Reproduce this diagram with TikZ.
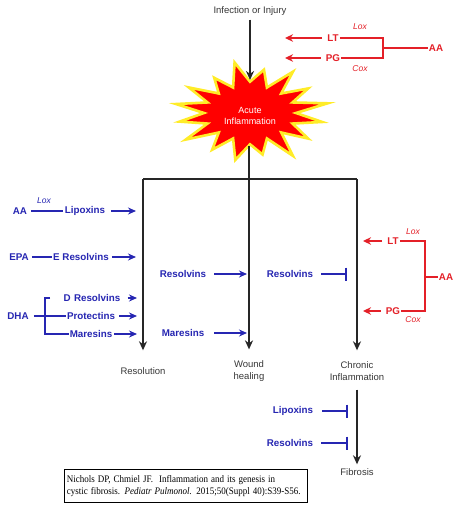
\documentclass[tikz,border=0pt]{standalone}
\usepackage{fontspec}
\setmainfont{Liberation Sans}
\newfontfamily\citefont{Liberation Serif}
\usetikzlibrary{arrows.meta}
\definecolor{myblue}{RGB}{38,38,178}
\definecolor{myred}{RGB}{228,32,40}
\definecolor{txtgray}{RGB}{55,55,55}
\definecolor{burstyellow}{RGB}{255,236,40}
\tikzset{
  lbl/.style={font=\fontsize{9.5}{12}\selectfont, text=txtgray, align=center, inner sep=1pt},
  bl/.style={font=\bfseries\fontsize{9.8}{11}\selectfont, text=myblue, inner sep=1pt},
  rd/.style={font=\bfseries\fontsize{9.8}{11}\selectfont, text=myred, inner sep=1pt},
  enzb/.style={font=\itshape\fontsize{8.5}{10}\selectfont, text=myblue, inner sep=1pt},
  enzr/.style={font=\itshape\fontsize{8.5}{10}\selectfont, text=myred, inner sep=1pt},
  blk/.style={line width=1.6pt, black!85},
  blkarr/.style={blk, -{Stealth[length=9pt,width=8pt]}},
  bln/.style={line width=1.4pt, myblue},
  barr/.style={bln, -{Stealth[length=8pt,width=7pt]}},
  binh/.style={bln, -{Bar[width=13pt,line width=1.8pt]}},
  rln/.style={line width=1.4pt, myred},
  rarr/.style={rln, -{Stealth[length=8pt,width=7.5pt]}},
}
\begin{document}
\begin{tikzpicture}[x=1pt,y=-1pt]
\useasboundingbox[fill=white] (0,0) rectangle (454,505);

% --- trigger and the acute burst ---
\node[lbl] (inj) at (250,11) {Infection or Injury};
\coordinate (bc) at (250,113);
\begin{scope}[shift={(bc)}, xscale=0.92, yscale=0.92]
  \filldraw[fill=red, draw=burstyellow, line width=2.6pt, line join=miter, miter limit=8]
    (0:50 and 30)      -- (11.25:80 and 50)
    -- (22.5:50 and 30) -- (33.75:76 and 50)
    -- (45:48 and 30)   -- (56.25:84 and 56)
    -- (67.5:48 and 30) -- (78.75:70 and 46)
    -- (90:48 and 34)   -- (101.25:82 and 52)
    -- (112.5:48 and 30) -- (123.75:74 and 48)
    -- (135:48 and 30)  -- (146.25:84 and 52)
    -- (157.5:50 and 30) -- (168.75:78 and 48)
    -- (180:50 and 30)  -- (191.25:82 and 50)
    -- (202.5:50 and 30) -- (213.75:80 and 50)
    -- (225:48 and 30)  -- (236.25:70 and 46)
    -- (247.5:48 and 30) -- (258.75:86 and 56)
    -- (270:48 and 34)  -- (281.25:78 and 48)
    -- (292.5:48 and 30) -- (303.75:84 and 54)
    -- (315:48 and 30)  -- (326.25:76 and 48)
    -- (337.5:50 and 30) -- (348.75:86 and 54)
    -- cycle;
\end{scope}
\node[font=\fontsize{9}{11}\selectfont, text=white, align=center] (acute) at (250,116) {Acute\\Inflammation};
\coordinate (btop) at (250,80);
\coordinate (bbot) at (249,146);
\draw[blkarr, shorten <=3pt] (inj.south) -- (btop);

% --- three outcomes ---
\coordinate (jL) at (143,179);
\coordinate (jM) at (249,179);
\coordinate (jR) at (357,179);
\node[lbl] (res) at (143,371) {Resolution};
\node[lbl] (wound) at (249,371) {Wound\\healing};
\node[lbl] (chron) at (357,371) {Chronic\\Inflammation};
\node[lbl] (fib) at (357,472) {Fibrosis};
\draw[blk] (bbot) -- (jM);
\draw[blk] (jL) -- (jR);
\draw[blkarr, shorten >=16pt] (jL) -- (res.north);
\draw[blkarr, shorten >=10pt] (jM) -- (wound.north);
\draw[blkarr, shorten >=10pt] (jR) -- (chron.north);
\draw[blkarr, shorten <=8pt, shorten >=3pt] (chron.south) -- (fib.north);

% --- pro-inflammatory eicosanoids, top ---
\node[rd] (lt1) at (333,38) {LT};
\node[rd] (pg1) at (333,58) {PG};
\node[rd] (aa1) at (436,48) {AA};
\node[enzr] (lox1) at (360,27) {Lox};
\node[enzr] (cox1) at (360,69) {Cox};
\coordinate (lt1tip) at (285,38);
\coordinate (pg1tip) at (285,58);
\draw[rarr, shorten <=4pt] (lt1.west) -- (lt1tip);
\draw[rarr, shorten <=4pt] (pg1.west) -- (pg1tip);
\draw[rln] (lt1.east) -- (383,38) -- (383,58) -- (pg1.east);
\draw[rln] (383,48) -- (aa1.west);

% --- pro-inflammatory eicosanoids, right ---
\node[rd] (lt2) at (393,241) {LT};
\node[rd] (pg2) at (393,311) {PG};
\node[rd] (aa2) at (446,277) {AA};
\node[enzr] (lox2) at (413,232) {Lox};
\node[enzr] (cox2) at (413,320) {Cox};
\coordinate (lt2tip) at (363,241);
\coordinate (pg2tip) at (363,311);
\draw[rarr, shorten <=4pt] (lt2.west) -- (lt2tip);
\draw[rarr, shorten <=4pt] (pg2.west) -- (pg2tip);
\draw[rln] (lt2.east) -- (425,241) -- (425,311) -- (pg2.east);
\draw[rln] (425,277) -- (aa2.west);

% --- pro-resolving mediators, left ---
\node[bl] (aa3) at (20,211) {AA};
\node[enzb] (lox3) at (44,201) {Lox};
\node[bl] (lipo) at (85,211) {Lipoxins};
\draw[bln, shorten <=3pt, shorten >=1pt] (aa3.east) -- (lipo.west);
\coordinate (lipotip) at (136,211);
\draw[barr, shorten <=5pt] (lipo.east) -- (lipotip);

\node[bl] (epa) at (19,257) {EPA};
\node[bl] (eres) at (81,257) {E Resolvins};
\draw[bln, shorten <=2pt] (epa.east) -- (eres.west);
\coordinate (erestip) at (136,257);
\draw[barr, shorten <=2pt] (eres.east) -- (erestip);

\node[bl] (dha) at (18,316) {DHA};
\node[bl] (dres) at (92,298) {D\,\,Resolvins};
\node[bl] (prot) at (91,316) {Protectins};
\node[bl] (mar) at (91,334) {Maresins};
\draw[bln] (50,298) -- (45,298) -- (45,334) -- (mar.west);
\draw[bln, shorten <=4pt] (dha.east) -- (prot.west);
\coordinate (drestip) at (137,298);
\coordinate (prottip) at (137,316);
\coordinate (martip) at (137,334);
\draw[barr, shorten <=6pt] (dres.east) -- (drestip);
\draw[barr, shorten <=3pt] (prot.east) -- (prottip);
\draw[barr, shorten <=1pt] (mar.east) -- (martip);

% --- mediators acting on healing and chronic inflammation ---
\node[bl] (res1) at (183,274) {Resolvins};
\node[bl] (mar1) at (183,333) {Maresins};
\node[bl] (res2) at (290,274) {Resolvins};
\coordinate (res1tip) at (247,274);
\coordinate (mar1tip) at (247,333);
\coordinate (res2tip) at (347,274);
\draw[barr, shorten <=7pt] (res1.east) -- (res1tip);
\draw[barr, shorten <=9pt] (mar1.east) -- (mar1tip);
\draw[binh, shorten <=7pt] (res2.east) -- (res2tip);

\node[bl] (lipo2) at (293,411) {Lipoxins};
\node[bl] (res3) at (290,443) {Resolvins};
\coordinate (lipo2tip) at (348,411);
\coordinate (res3tip) at (348,443);
\draw[binh, shorten <=8pt] (lipo2.east) -- (lipo2tip);
\draw[binh, shorten <=7pt] (res3.east) -- (res3tip);

% --- citation ---
\node[draw=black, line width=0.9pt, anchor=north west, minimum width=243pt, minimum height=33pt,
      inner sep=2pt, text width=238pt, align=left,
      font=\citefont\fontsize{10}{12}\selectfont] (cite) at (64,469)
  {\scalebox{0.9}[1]{Nichols DP, Chmiel JF.\ \ Inflammation and its genesis in}\\
   \scalebox{0.9}[1]{cystic fibrosis. \textit{Pediatr Pulmonol.} 2015;50(Suppl 40):S39-S56.}};
\end{tikzpicture}
\end{document}
